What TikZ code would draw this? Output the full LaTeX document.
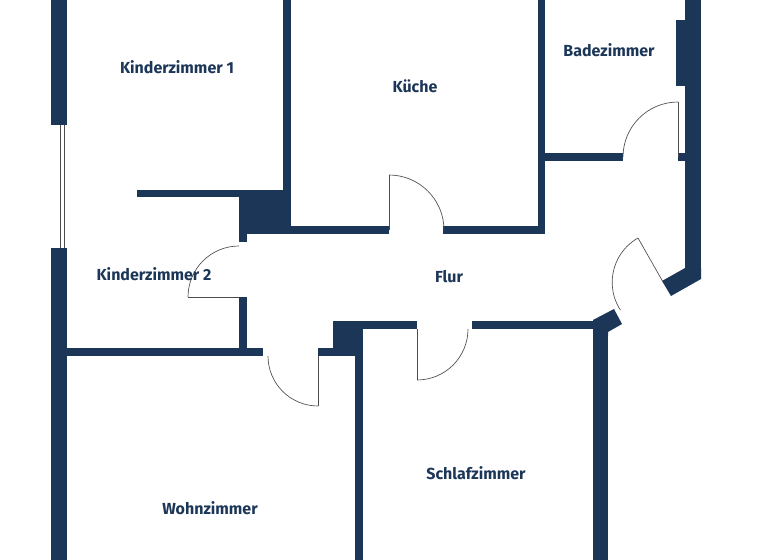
\documentclass[tikz,border=0pt]{standalone}
\usepackage{fontspec}
\setmainfont{Fira Sans}
\definecolor{navy}{RGB}{28,54,88}
\begin{document}
\begin{tikzpicture}[x=0.75pt,y=-0.75pt,
  wall/.style={fill=navy,draw=none},
  door/.style={draw=black!70,line width=0.5pt},
  room/.style={text=navy,font=\bfseries\fontsize{12}{14}\selectfont}]
\useasboundingbox (0,0) rectangle (768,560);
% outer left wall
\fill[wall] (51,0) rectangle (67,125);
\fill[wall] (51,248) rectangle (67,560);
\draw[door] (60,125) -- (60,248) (64,125) -- (64,248);
% K1 / Kueche
\fill[wall] (283,0) rectangle (291,226);
\fill[wall] (137,190) rectangle (291,197);
\fill[wall] (239,190) rectangle (291,226);
\fill[wall] (239,226) rectangle (389,234);
\fill[wall] (443,226) rectangle (545,234);
\fill[wall] (538,0) rectangle (545,234);
\fill[wall] (239,226) rectangle (247,242);
\fill[wall] (239,297) rectangle (247,350);
% K2 / Wohnzimmer
\fill[wall] (67,348) rectangle (263,356);
\fill[wall] (318,348) rectangle (363,356);
\fill[wall] (333,321) rectangle (363,356);
\fill[wall] (355,321) rectangle (363,560);
% Flur bottom
\fill[wall] (333,321) rectangle (417,329);
\fill[wall] (472,321) rectangle (600,329);
\fill[wall] (593,321) rectangle (608,560);
\fill[wall] (593,320) -- (614,309) -- (622,324) -- (608,332) -- (608,336) -- (593,336) -- cycle;
% right side
\fill[wall] (685,0) rectangle (701,279);
\fill[wall] (662,281) -- (685,268) -- (701,268) -- (701,279) -- (671,296) -- cycle;
\fill[wall] (676,20) rectangle (685,86);
\fill[wall] (545,153) rectangle (623,161);
\fill[wall] (678,153) rectangle (685,161);
% doors
\draw[door] (389,230) -- (389,175);
\draw[door] (389,175) arc[start angle=270,end angle=360,radius=55];
\draw[door] (678,157) -- (678,102);
\draw[door] (678,102) arc[start angle=270,end angle=180,radius=55];
\draw[door] (239,297) -- (188,297);
\draw[door] (188,297) arc[start angle=180,end angle=270,radius=51];
\draw[door] (318,356) -- (318,406);
\draw[door] (318,406) arc[start angle=90,end angle=180,radius=50];
\draw[door] (417,329) -- (417,380);
\draw[door] (417,380) arc[start angle=90,end angle=0,radius=51];
\draw[door] (663,282) -- (638,238);
\draw[door] (638,238) arc[start angle=240.4,end angle=147,radius=51];
% labels
\node[room] (k1) at (177,67) {Kinderzimmer 1};
\node[room] (ku) at (415,86) {Küche};
\node[room] (bad) at (609,50) {Badezimmer};
\node[room] (k2) at (154,274) {Kinderzimmer 2};
\node[room] (flur) at (449,277) {Flur};
\node[room] (sz) at (476,473) {Schlafzimmer};
\node[room] (wz) at (210,508) {Wohnzimmer};
\end{tikzpicture}
\end{document}
